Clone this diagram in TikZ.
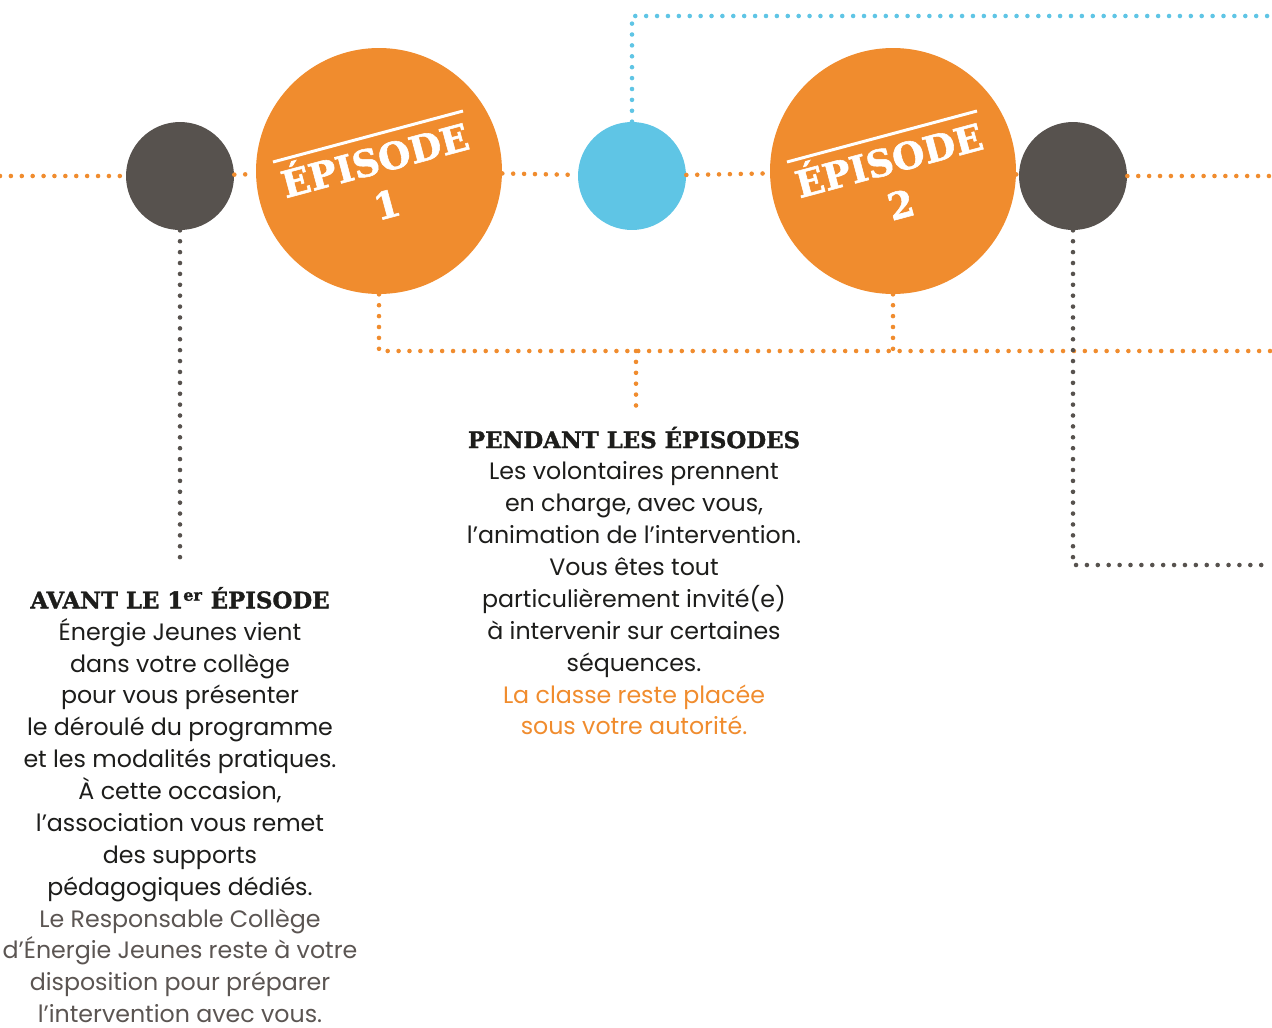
\documentclass[tikz,border=0pt]{standalone}
\usepackage{fontspec}
\setmainfont{Poppins}
\newfontfamily\slabfont{DejaVu Serif}[BoldFeatures={FakeBold=1.5}]
\usetikzlibrary{positioning}
\definecolor{epOrange}{HTML}{F08C2E}
\definecolor{epBlue}{HTML}{5FC5E5}
\definecolor{epDark}{HTML}{57524E}
\definecolor{epText}{HTML}{1D1D1B}
\definecolor{epGray}{HTML}{5B5552}
\begin{document}
\begin{tikzpicture}
[x=0.02cm,y=-0.02cm,%
  smallDot/.style={shape=circle,minimum size=2.16cm,inner sep=0pt},%
  bigDot/.style={shape=circle,minimum size=4.92cm,inner sep=0pt,fill=epOrange},%
  dotLine/.style={line width=2.6pt,line cap=round,dash pattern=on 0pt off 6.2pt},%
  epLabel/.style={text=white,align=center,inner sep=0pt,
    font=\slabfont\bfseries\fontsize{21pt}{26pt}\selectfont},%
  infoText/.style={text=epText,align=center,inner sep=0pt,
    font=\fontsize{13.5pt}{18.14pt}\selectfont}]
\useasboundingbox (0,0) rectangle (1272,1028);
%% nodes of the timeline
\node[smallDot,fill=epDark] (avant) at (180,176) {};
\node[bigDot] (ep1) at (379,171) {};
\node[smallDot,fill=epBlue] (mid) at (632,176) {};
\node[bigDot] (ep2) at (893,171) {};
\node[smallDot,fill=epDark] (apres) at (1073,176) {};
%% free ends
\coordinate (lineW) at (0,176);
\coordinate (lineE) at (1272,176);
\coordinate (blueUp) at (632,16);
\coordinate (blueE) at (1272,16);
\coordinate (avantEnd) at (180,567);
\coordinate (pendA) at (379,351);
\coordinate (pendB) at (893,351);
\coordinate (pendC) at (636,351);
\coordinate (pendEnd) at (636,410);
\coordinate (pendE) at (1272,351);
\coordinate (apresDown) at (1073,565);
\coordinate (apresE) at (1272,565);
%% orange timeline
\path
\foreach \startnode/\endnode in {lineW/avant, avant/ep1, ep1/mid, mid/ep2, ep2/apres, apres/lineE}
{
  (\startnode) edge[dotLine,epOrange] (\endnode)
};
%% branches
\draw[dotLine,epBlue] (mid) -- (blueUp) -- (blueE);
\draw[dotLine,epOrange] (ep1) -- (pendA) -- (pendE);
\draw[dotLine,epOrange] (ep2) -- (pendB);
\draw[dotLine,epOrange] (pendC) -- (pendEnd);
\draw[dotLine,epDark] (avant) -- (avantEnd);
\draw[dotLine,epDark] (apres) -- (apresDown) -- (apresE);
%% episode labels
\draw[white,line width=1.7pt,shift={(ep1)}] (-106,-9) -- (84,-60);
\node[epLabel,rotate=15] (ep1txt) at (380,179) {ÉPISODE\\1};
\draw[white,line width=1.7pt,shift={(ep2)}] (-106,-9) -- (84,-60);
\node[epLabel,rotate=15] (ep2txt) at (894,179) {ÉPISODE\\2};
%% texts
\node[infoText] (avantTxt) at (180,805)
{{\slabfont\bfseries\fontsize{13pt}{18.14pt}\selectfont AVANT LE 1\textsuperscript{er} ÉPISODE}\\
Énergie Jeunes vient\\
dans votre collège\\
pour vous présenter\\
le déroulé du programme\\
et les modalités pratiques.\\
À cette occasion,\\
l’association vous remet\\
des supports\\
pédagogiques dédiés.\\
\textcolor{epGray}{Le Responsable Collège}\\
\textcolor{epGray}{d’Énergie Jeunes reste à votre}\\
\textcolor{epGray}{disposition pour préparer}\\
\textcolor{epGray}{l’intervention avec vous.}};
\node[infoText] (pendTxt) at (634,581)
{{\slabfont\bfseries\fontsize{13pt}{18.14pt}\selectfont PENDANT LES ÉPISODES}\\
Les volontaires prennent\\
en charge, avec vous,\\
l’animation de l’intervention.\\
Vous êtes tout\\
particulièrement invité(e)\\
à intervenir sur certaines\\
séquences.\\
\textcolor{epOrange}{La classe reste placée}\\
\textcolor{epOrange}{sous votre autorité.}};
\end{tikzpicture}
\end{document}
